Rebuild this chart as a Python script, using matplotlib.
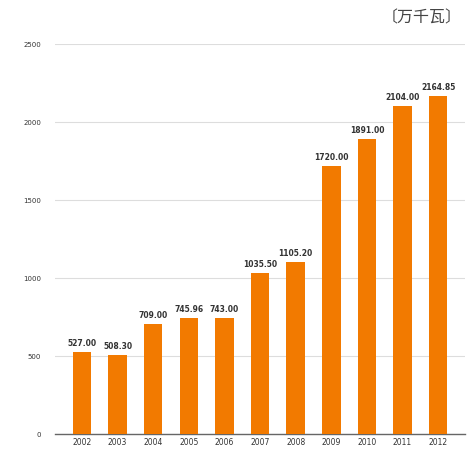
import matplotlib
matplotlib.use('Agg')
import matplotlib.pyplot as plt
import numpy as np

plt.rcParams['font.family'] = ['Noto Sans CJK SC', 'DejaVu Sans']

# Installed capacity data (万千瓦)
years = ['2002', '2003', '2004', '2005', '2006', '2007', '2008', '2009', '2010', '2011', '2012']
values = [527.00, 508.30, 709.00, 745.96, 743.00, 1035.50, 1105.20, 1720.00, 1891.00, 2104.00, 2164.85]
yticks = [0, 500, 1000, 1500, 2000, 2500]

fig = plt.figure(figsize=(4.69, 4.49), dpi=100)
ax = fig.add_axes([0.117, 0.033, 0.875, 0.869])

x = np.arange(len(years))
bars = ax.bar(x, values, width=0.52, color='#F27A00', zorder=3)

for xi, v in zip(x, values):
    ax.text(xi, v + 25, f'{v:.2f}', ha='center', va='bottom', fontsize=5.5,
            color='#333333', family='DejaVu Sans', fontweight='bold')

ax.set_xlim(-0.76, len(years) - 0.24)
ax.set_ylim(0, 2500)
ax.set_yticks(yticks)
ax.set_yticklabels([str(t) for t in yticks], fontsize=5, color='#333333', family='DejaVu Sans')
ax.set_xticks(x)
ax.set_xticklabels(years, fontsize=5.5, color='#333333', family='DejaVu Sans')
ax.tick_params(axis='both', length=0)
ax.tick_params(axis='x', pad=3)
ax.tick_params(axis='y', pad=10)

ax.yaxis.grid(True, color='#dddddd', linewidth=0.8, zorder=0)
for side in ['top', 'right', 'left']:
    ax.spines[side].set_visible(False)
ax.spines['bottom'].set_color('#666666')
ax.spines['bottom'].set_linewidth(1.0)

fig.text(0.985, 0.96, '〔万千瓦〕', ha='right', va='center', fontsize=11.5, color='#444444')

fig.savefig('out.png', dpi=100, facecolor='white')
